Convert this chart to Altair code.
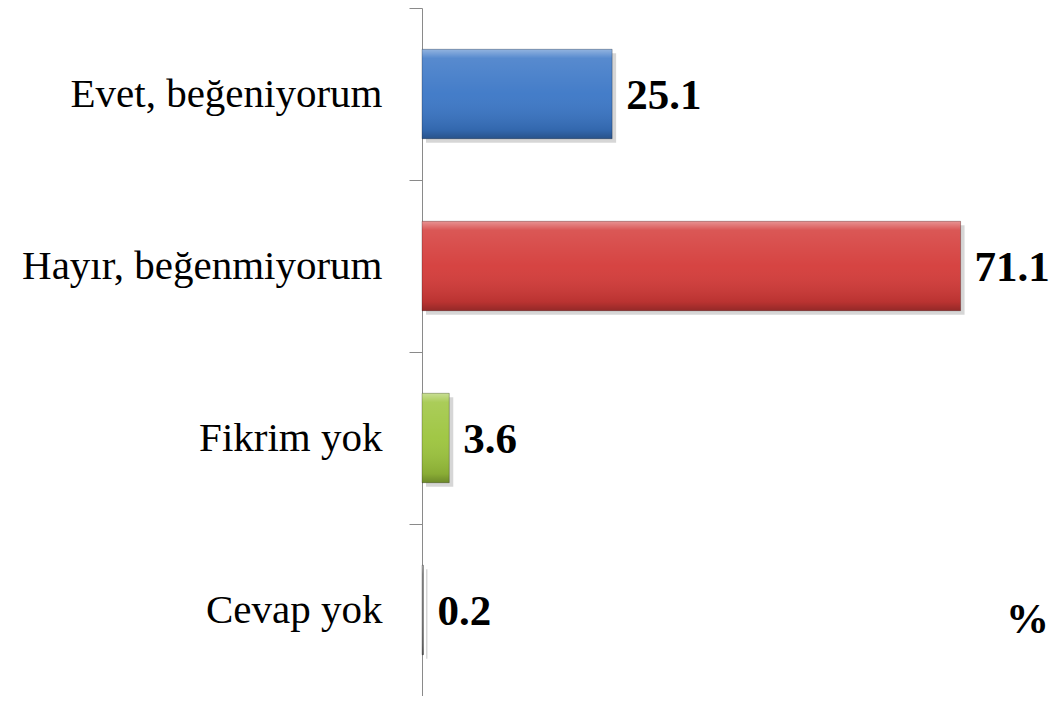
import altair as alt
import pandas as pd

categories = ["Evet, beğeniyorum", "Hayır, beğenmiyorum", "Fikrim yok", "Cevap yok"]
values = [25.1, 71.1, 3.6, 0.2]
labels = ["25.1", "71.1", "3.6", "0.2"]
bar_colors = ["#3a76c6", "#d43a38", "#9cc43c", "#7c7c7c"]
unit_label = ["%"]

df = pd.DataFrame({"cat": categories, "value": values, "label": labels})
unit_df = pd.DataFrame({"cat": [categories[-1]], "txt": unit_label})

W, H = 606, 688
FONT = "Liberation Serif"
BAND = alt.RelativeBandSize(band=0.52)

y_enc = alt.Y(
    "cat:N",
    sort=categories,
    scale=alt.Scale(padding=0),
    title=None,
    axis=alt.Axis(
        labelFont=FONT,
        labelFontSize=41,
        labelColor="#000000",
        labelPadding=27,
        tickSize=13,
        tickColor="#8a8a8a",
        domainColor="#8a8a8a",
        tickBand="extent",
        labelLimit=420,
    ),
)
x_enc = alt.X("value:Q", scale=alt.Scale(domain=[0, 80], nice=False), axis=None)

base = alt.Chart(df)

shadow = base.mark_bar(
    color="#000000", opacity=0.16, height=BAND,
    xOffset=4, x2Offset=5, yOffset=4, y2Offset=5,
).encode(x=x_enc, y=y_enc)

bars = base.mark_bar(height=BAND).encode(
    x=x_enc,
    y=y_enc,
    color=alt.Color("cat:N", sort=categories,
                    scale=alt.Scale(domain=categories, range=bar_colors), legend=None),
)

bevel = base.mark_bar(
    height=BAND,
    fill=alt.Gradient(
        gradient="linear", x1=0, y1=0, x2=0, y2=1,
        stops=[
            alt.GradientStop(color="rgba(255,255,255,0.45)", offset=0),
            alt.GradientStop(color="rgba(255,255,255,0.15)", offset=0.1),
            alt.GradientStop(color="rgba(255,255,255,0.05)", offset=0.5),
            alt.GradientStop(color="rgba(0,0,0,0.12)", offset=0.9),
            alt.GradientStop(color="rgba(0,0,0,0.3)", offset=1),
        ],
    ),
    stroke="rgba(0,0,0,0.25)",
    strokeWidth=1,
).encode(x=x_enc, y=y_enc)

text = base.mark_text(
    align="left", baseline="middle", dx=14, dy=2,
    font=FONT, fontSize=43, fontWeight="bold", color="#000000",
).encode(x=x_enc, y=y_enc, text="label:N")

unit = alt.Chart(unit_df).mark_text(
    align="left", baseline="middle", dx=-22, dy=10,
    font=FONT, fontSize=43, fontWeight="bold", color="#000000",
).encode(x=alt.value(W), y=y_enc, text="txt:N")

chart = alt.layer(shadow, bars, bevel, text, unit).properties(
    width=W,
    height=H,
    padding={"left": 414, "top": 0, "right": 23, "bottom": 0},
    autosize="none",
).configure(background="#ffffff").configure_view(stroke=None)

chart.save("out.html", embed_options={"renderer": "svg", "actions": False})
